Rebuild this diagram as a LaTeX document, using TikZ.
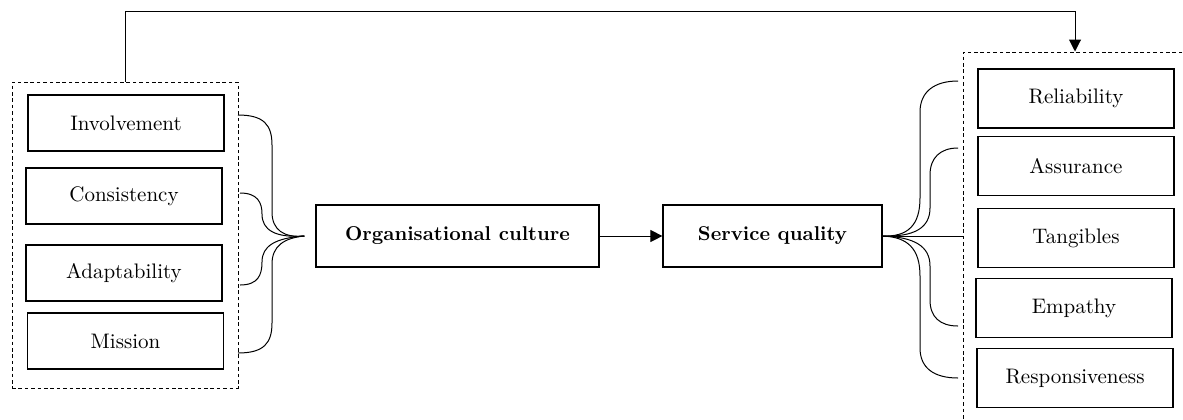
\documentclass[tikz,border=0pt]{standalone}
\usepackage{tikz}
\usetikzlibrary{positioning,arrows.meta}

\begin{document}
\begin{tikzpicture}[x=0.5pt, y=-0.5pt,
  every node/.style={font=\fontsize{10.5}{12}\selectfont, align=center},
  dimbox/.style={draw, line width=0.6pt, minimum width=98pt, minimum height=28pt},
  sqbox/.style={draw, line width=0.6pt, minimum width=98pt, minimum height=29.5pt},
  mainbox/.style={draw, line width=0.6pt, minimum height=31pt, font=\fontsize{10}{12}\selectfont\bfseries},
  group/.style={draw, line width=0.5pt, dash pattern=on 1.8pt off 1.4pt},
  line/.style={draw, line width=0.5pt},
  arrow/.style={line, -{Triangle[length=6pt,width=6pt]}}
]
\useasboundingbox (0,0) rectangle (1183,419);
\clip (0,0) rectangle (1183,419);

% culture dimensions
\node[group, minimum width=113pt, minimum height=153pt] (orgdims) at (125,235) {};
\node[dimbox] (invol) at (126,123) {Involvement};
\node[dimbox] (consis) at (124,196) {Consistency};
\node[dimbox] (adapt) at (124,273) {Adaptability};
\node[dimbox] (miss) at (125.5,341) {Mission};

% quality dimensions
\node[group, minimum width=112pt, minimum height=186.5pt] (sqdims) at (1075,238.5) {};
\node[sqbox] (relia) at (1076,98.5) {Reliability};
\node[sqbox] (assur) at (1076,166) {Assurance};
\node[sqbox] (tang) at (1076,238) {Tangibles};
\node[sqbox] (empa) at (1074,308) {Empathy};
\node[sqbox] (resp) at (1075,378) {Responsiveness};

\node[mainbox, minimum width=141.5pt] (orgc) at (457.5,236) {Organisational culture};
\node[mainbox, minimum width=109.5pt] (servq) at (772.5,236) {Service quality};

\draw[arrow] (orgc) -- (servq);
\draw[arrow] (orgdims.north) -- ++(0,-70) -| (sqdims.north);

% left braces
\coordinate (ltip) at ([xshift=-5.5pt]orgc.west);
\draw[line] (238,115) .. controls (264,115) and (272,125) .. (272,145) -- (272,212) .. controls (272,230) and (284,238) .. (ltip);
\draw[line] (238,353) .. controls (264,353) and (272,343) .. (272,323) -- (272,264) .. controls (272,246) and (284,238) .. (ltip);
\draw[line] (240,193) .. controls (258,193) and (262,203) .. (262,214) .. controls (262,230) and (275,238) .. (ltip);
\draw[line] (240,285) .. controls (258,285) and (262,275) .. (262,262) .. controls (262,246) and (275,238) .. (ltip);

% right braces
\draw[line] (servq.east) .. controls (908,237) and (920,225) .. (920,198) -- (920,112) .. controls (920,92) and (934,81) .. (958,81);
\draw[line] (servq.east) .. controls (914,237) and (930,228) .. (930,208) -- (930,175) .. controls (930,158) and (940,148) .. (958,148);
\draw[line] (servq.east) -- (servq.east -| sqdims.west);
\draw[line] (servq.east) .. controls (914,237) and (930,246) .. (930,266) -- (930,300) .. controls (930,317) and (940,326) .. (958,326);
\draw[line] (servq.east) .. controls (908,237) and (920,249) .. (920,276) -- (920,348) .. controls (920,368) and (934,378) .. (958,378);
\end{tikzpicture}
\end{document}
